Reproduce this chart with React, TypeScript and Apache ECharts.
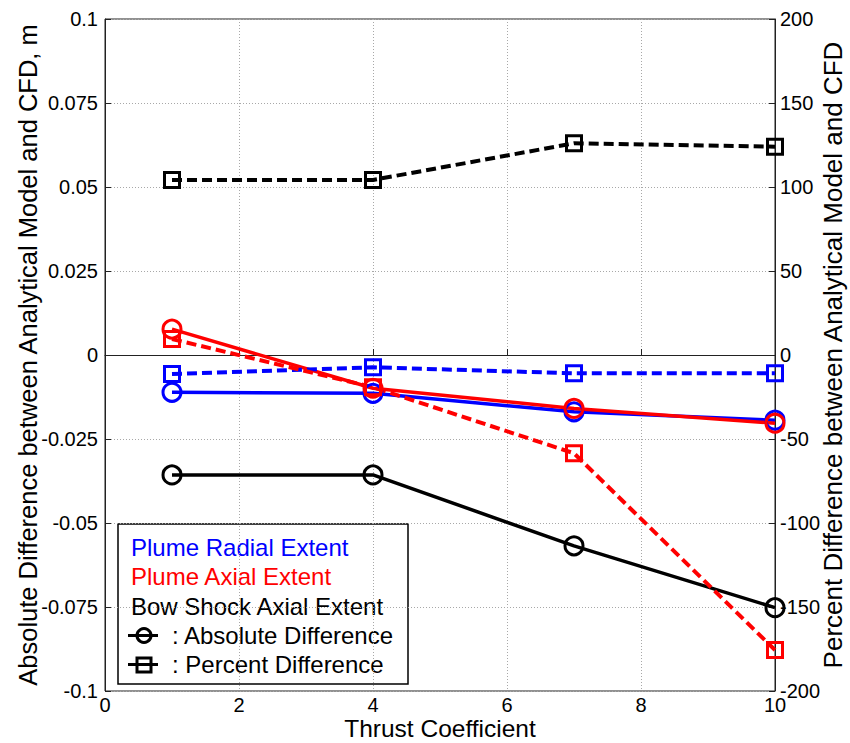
import React, { useEffect, useRef } from "react";
import * as echarts from "echarts";

const thrust = [1, 4, 7, 10];
const radialAbs = [-0.0111, -0.0114, -0.0169, -0.0194];
const axialAbs = [0.0077, -0.0099, -0.0159, -0.0203];
const bowAbs = [-0.0357, -0.0357, -0.0568, -0.0752];
const radialPct = [-11.3, -7.3, -10.9, -10.9];
const axialPct = [9.5, -19.2, -58.5, -175.6];
const bowPct = [104.2, 104.2, 126.0, 124.0];

const leftTicks = ["-0.1", "-0.075", "-0.05", "-0.025", "0", "0.025", "0.05", "0.075", "0.1"];
const rightTicks = ["-200", "-150", "-100", "-50", "0", "50", "100", "150", "200"];
const xTicks = ["0", "2", "4", "6", "8", "10"];

const legendTitles = ["Plume Radial Extent", "Plume Axial Extent", "Bow Shock Axial Extent"];
const legendColors = ["#0000ff", "#ff0000", "#000000"];
const FONT = "Liberation Sans, Arial, sans-serif";

const pairs = (ys: number[]) => thrust.map((x, i) => [x, ys[i]]);

function mk(name: string, ys: number[], color: string, axis: number, dashed: boolean) {
  return {
    name,
    type: "line",
    yAxisIndex: axis,
    data: pairs(ys),
    symbol: dashed ? "rect" : "circle",
    symbolSize: dashed ? 15 : 18,
    lineStyle: { color, width: dashed ? 4 : 3.5, type: dashed ? [10, 5] : "solid" },
    itemStyle: { color: "rgba(0,0,0,0)", borderColor: color, borderWidth: 3 },
    emphasis: { disabled: true },
  };
}

export default function App() {
  const ref = useRef<HTMLDivElement>(null);
  useEffect(() => {
    const chart = echarts.init(ref.current!, undefined, { renderer: "svg" });
    const axisLine = { show: true, lineStyle: { color: "#222", width: 1 } };
    const split = { show: true, lineStyle: { color: "#a8a8a8", type: [1, 2], width: 1 } };
    const tickLabel = { color: "#000", fontSize: 20, lineHeight: 20, fontFamily: FONT };
    const lx = 118, ly = 524;
    const lf = `24px ${FONT}`;
    chart.setOption({
      animation: false,
      backgroundColor: "#fff",
      grid: {
        left: 105, right: 75, top: 19, bottom: 52, containLabel: false, outerBoundsMode: "none",
        show: true, borderColor: "#222", borderWidth: 1, backgroundColor: "#fff",
      },
      xAxis: {
        type: "value", min: 0, max: 10, interval: 2,
        name: "Thrust Coefficient", nameLocation: "middle", nameGap: 25, nameMoveOverlap: false,
        nameTextStyle: { color: "#000", fontSize: 24.5, lineHeight: 24, fontFamily: FONT },
        axisLine, axisTick: { show: true, inside: true, length: 6, lineStyle: { color: "#222" } },
        axisLabel: { ...tickLabel, margin: 4, formatter: (v: number) => xTicks[Math.round(v / 2)] },
        splitLine: split,
      },
      yAxis: [
        {
          type: "value", min: -0.1, max: 0.1, interval: 0.025, position: "left",
          name: "Absolute Difference between Analytical Model and CFD, m", nameLocation: "middle", nameRotate: 90, nameGap: 64, nameMoveOverlap: false,
          nameTextStyle: { color: "#000", fontSize: 25.5, fontFamily: FONT },
          axisLine, axisTick: { show: true, inside: true, length: 6, lineStyle: { color: "#222" } },
          axisLabel: { ...tickLabel, margin: 7, formatter: (v: number) => leftTicks[Math.round((v + 0.1) / 0.025)] },
          splitLine: split,
        },
        {
          type: "value", min: -200, max: 200, interval: 50, position: "right",
          name: "Percent Difference between Analytical Model and CFD", nameLocation: "middle", nameRotate: 90, nameGap: 45, nameMoveOverlap: false,
          nameTextStyle: { color: "#000", fontSize: 26, fontFamily: FONT },
          axisLine, axisTick: { show: true, inside: true, length: 6, lineStyle: { color: "#222" } },
          axisLabel: { ...tickLabel, margin: 5, formatter: (v: number) => rightTicks[Math.round((v + 200) / 50)] },
          splitLine: { show: false },
        },
      ],
      series: [
        mk("Plume Radial Extent (abs)", radialAbs, "#0000ff", 0, false),
        mk("Plume Axial Extent (abs)", axialAbs, "#ff0000", 0, false),
        mk("Bow Shock Axial Extent (abs)", bowAbs, "#000000", 0, false),
        mk("Plume Radial Extent (%)", radialPct, "#0000ff", 1, true),
        mk("Plume Axial Extent (%)", axialPct, "#ff0000", 1, true),
        mk("Bow Shock Axial Extent (%)", bowPct, "#000000", 1, true),
      ],
      graphic: [
        {
          type: "group", z: 100,
          children: [
            { type: "rect", shape: { x: lx, y: ly, width: 290, height: 160 }, style: { fill: "#fff", stroke: "#000", lineWidth: 1.5 } },
            ...legendTitles.map((t, i) => ({
              type: "text", x: lx + 13, y: ly + 23 + i * 29.5,
              style: { text: t, fill: legendColors[i], font: lf, verticalAlign: "middle", align: "left" },
            })),
            { type: "line", shape: { x1: lx + 10, y1: ly + 111.5, x2: lx + 40, y2: ly + 111.5 }, style: { stroke: "#000", lineWidth: 3 } },
            { type: "circle", shape: { cx: lx + 26, cy: ly + 111.5, r: 7 }, style: { fill: "none", stroke: "#000", lineWidth: 3 } },
            { type: "text", x: lx + 54, y: ly + 111.5, style: { text: ": Absolute Difference", fill: "#000", font: lf, verticalAlign: "middle", align: "left" } },
            { type: "line", shape: { x1: lx + 10, y1: ly + 140.5, x2: lx + 40, y2: ly + 140.5 }, style: { stroke: "#000", lineWidth: 3 } },
            { type: "rect", shape: { x: lx + 19, y: ly + 134, width: 14, height: 14 }, style: { fill: "none", stroke: "#000", lineWidth: 3 } },
            { type: "text", x: lx + 54, y: ly + 140.5, style: { text: ": Percent Difference", fill: "#000", font: lf, verticalAlign: "middle", align: "left" } },
          ],
        },
      ],
    });
    return () => chart.dispose();
  }, []);
  return <div ref={ref} style={{ position: "absolute", left: 0, top: 0, width: 850, height: 743 }} />;
}
